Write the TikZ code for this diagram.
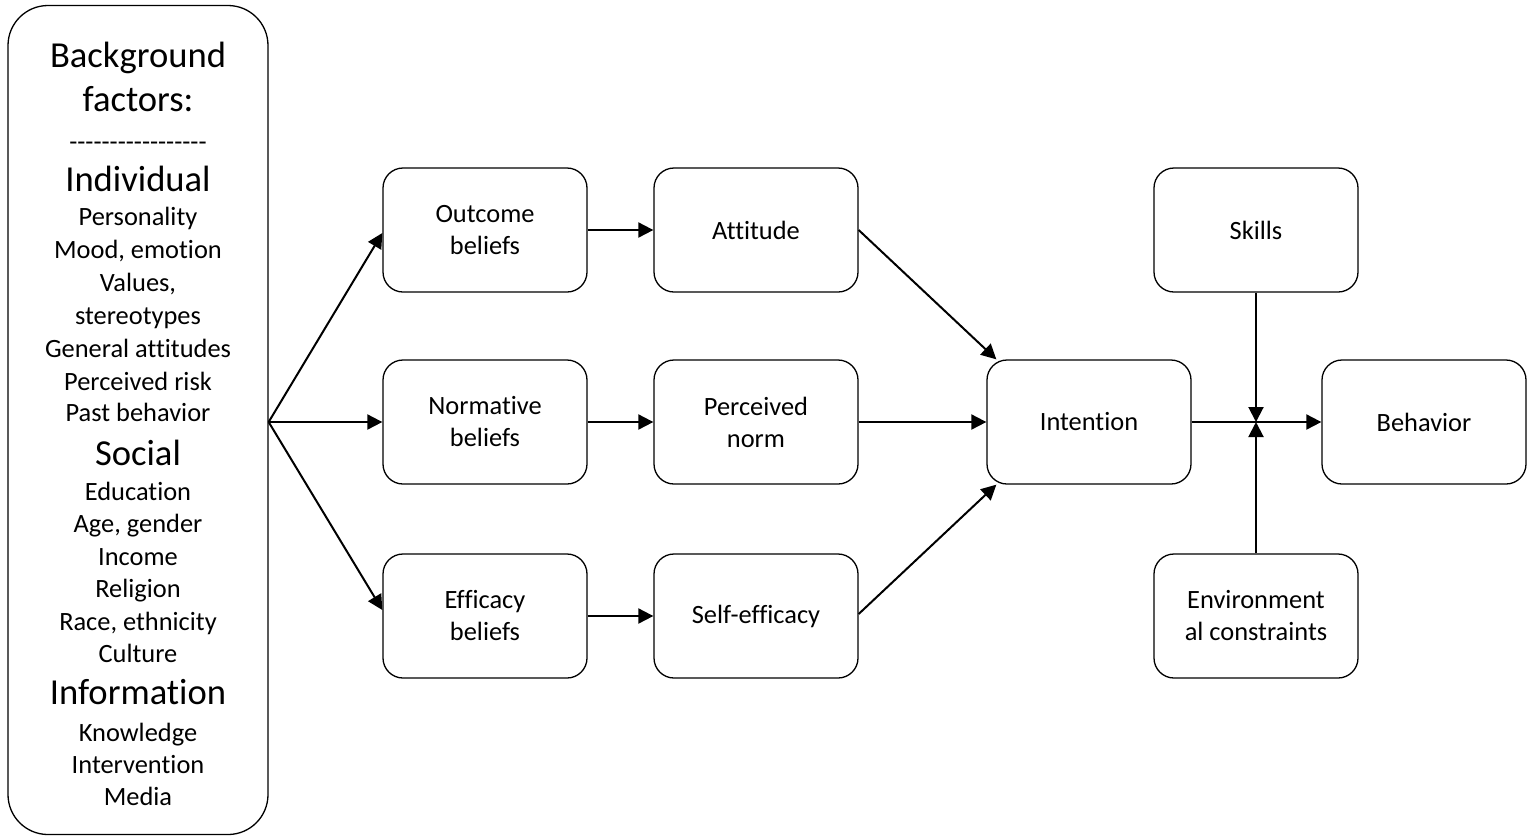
\documentclass[tikz,border=0pt]{standalone}
\usepackage{fontspec}
\setmainfont{Carlito}[Ligatures={TeX,NoCommon}]
\usetikzlibrary{arrows.meta}
\begin{document}
\begin{tikzpicture}[x=0.5pt,y=-0.5pt,
  box/.style={draw, line width=0.65pt, rounded corners=10pt, minimum width=102pt, minimum height=62pt, align=center, font=\fontsize{13.2}{16}\selectfont, inner sep=0pt},
  arr/.style={line width=1pt, -{Triangle[length=7.5pt,width=7.5pt]}},
  big/.style={font=\fontsize{18.3}{22}\selectfont, inner sep=0pt, anchor=base},
  small/.style={font=\fontsize{13.2}{16}\selectfont, inner sep=0pt, anchor=base}]
\useasboundingbox (0,0) rectangle (1533,837);
% background factors box
\node[draw, line width=0.65pt, rounded corners=20pt, minimum width=130pt, minimum height=414.5pt, inner sep=0pt] (bg) at (138,420) {};
\node[big]   (t1)  at (138,67)  {Background};
\node[big]   (t2)  at (138,111) {factors:};
\node[small] (t3)  at (138,150) {-{}-{}-{}-{}-{}-{}-{}-{}-{}-{}-{}-{}-{}-{}-{}-{}-};
\node[big]   (t4)  at (138,191) {Individual};
\node[small] (t5)  at (138,225) {Personality};
\node[small] (t6)  at (138,258) {Mood, emotion};
\node[small] (t7)  at (138,291) {Values,};
\node[small] (t8)  at (138,324) {stereotypes};
\node[small] (t9)  at (138,357) {General attitudes};
\node[small] (t10) at (138,390) {Perceived risk};
\node[small] (t11) at (138,421) {Past behavior};
\node[big]   (t12) at (138,465) {Social};
\node[small] (t13) at (138,500) {Education};
\node[small] (t14) at (138,532) {Age, gender};
\node[small] (t15) at (138,565) {Income};
\node[small] (t16) at (138,597) {Religion};
\node[small] (t17) at (138,630) {Race, ethnicity};
\node[small] (t18) at (138,662) {Culture};
\node[big]   (t19) at (138,704) {Information};
\node[small] (t20) at (138,741) {Knowledge};
\node[small] (t21) at (138,773) {Intervention};
\node[small] (t22) at (138,805) {Media};
% boxes
\node[box] (ob)  at (485,230)  {Outcome\\beliefs};
\node[box] (att) at (756,230)  {Attitude};
\node[box] (nb)  at (485,422)  {Normative\\beliefs};
\node[box] (pn)  at (756,422)  {Perceived\\norm};
\node[box] (eb)  at (485,616)  {Efficacy\\beliefs};
\node[box] (se)  at (756,616)  {Self-efficacy};
\node[box] (int) at (1089,422) {Intention};
\node[box] (sk)  at (1256,230) {Skills};
\node[box] (ec)  at (1256,616) {Environment\\al constraints};
\node[box] (beh) at (1424,422) {Behavior};
% connectors
\coordinate (src) at (bg.east |- nb.west);
\draw[arr] (src) -- ([yshift=-1.5pt]ob.west);
\draw[arr] (src) -- (nb.west);
\draw[arr] (src) -- ([yshift=3pt]eb.west);
\draw[arr] (ob) -- (att);
\draw[arr] (nb) -- (pn);
\draw[arr] (eb) -- (se);
\draw[arr] (att.east) -- ([xshift=5pt]int.north west);
\draw[arr] (pn) -- (int);
\draw[arr] ([yshift=1pt]se.east) -- ([xshift=5pt]int.south west);
\draw[arr] (int) -- (beh);
\coordinate (j) at (sk.south |- int.east);
\draw[arr] (sk.south) -- (j);
\draw[arr] (ec.north) -- (j);
\end{tikzpicture}
\end{document}
